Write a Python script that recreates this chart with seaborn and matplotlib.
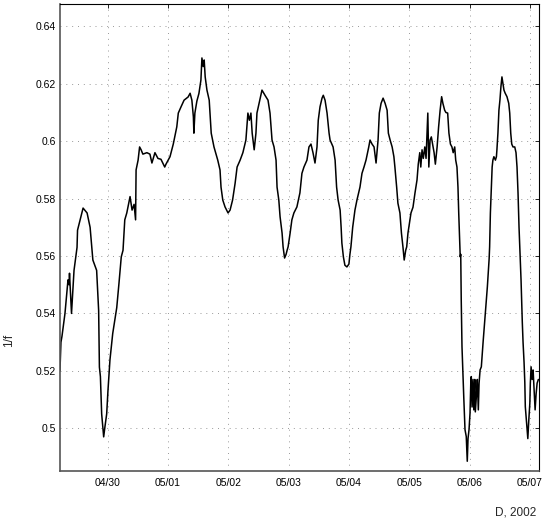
import numpy as np
import pandas as pd
import seaborn as sns
import matplotlib.pyplot as plt
import matplotlib.dates as mdates

# hours after 2002-04-29 00:00 and the 1/f value
hours = [5.0, 5.4, 5.8, 7.0, 8.2, 8.6, 8.8, 9.6, 10.6, 11.8, 12.0, 14.2, 15.8, 17.0,
         18.1, 19.6, 20.0, 20.4, 20.7, 21.1, 21.6, 22.4, 22.9, 23.6, 24.1, 24.9,
         26.0, 27.6, 28.5, 29.4, 30.1, 30.8, 31.6, 32.9, 33.7, 34.5, 35.1, 35.3,
         36.1, 36.7, 37.3, 38.0, 39.6, 40.8, 41.6, 42.8, 44.0, 45.2, 46.7, 47.2,
         48.8, 50.1, 51.5, 52.1, 53.2, 54.4, 56.0, 56.8, 57.5, 58.1, 58.3, 58.7,
         59.5, 60.3, 61.1, 61.5, 62.0, 62.4, 62.8, 63.5, 64.4, 65.2, 66.3, 67.8,
         68.7, 69.1, 69.8, 70.7, 71.9, 72.7, 73.7, 74.7, 75.5, 76.7, 77.8, 79.0,
         79.8, 80.4, 81.0, 81.5, 82.3, 83.0, 83.4, 84.5, 85.4, 86.6, 87.8, 88.6,
         89.4, 90.2, 91.0, 91.4, 92.1, 92.6, 93.4, 93.8, 94.4, 95.0, 95.4, 95.8,
         96.6, 97.3, 98.1, 99.3, 100.5, 101.3, 102.1, 103.3, 104.1, 104.9, 105.7,
         106.5, 107.3, 107.8, 108.5, 109.3, 109.8, 110.5, 111.3, 112.1, 112.5,
         113.7, 114.5, 115.1, 115.7, 116.5, 116.9, 117.2, 117.8, 118.4, 119.2,
         120.0, 120.4, 120.8, 121.5, 122.4, 123.2, 124.4, 125.2, 126.0, 126.8,
         127.9, 128.4, 129.2, 130.0, 130.8, 131.6, 132.1, 132.8, 133.6, 134.4,
         135.2, 135.7, 136.4, 137.2, 137.9, 138.3, 139.0, 139.5, 140.3, 140.9,
         141.5, 142.0, 142.6, 143.0, 143.5, 144.3, 144.7, 145.5, 146.3, 147.1,
         147.6, 148.2, 148.6, 149.1, 149.6, 150.2, 150.7, 151.1, 151.4, 151.8,
         152.3, 152.8, 153.3, 153.9, 154.4, 155.1, 155.7, 156.3, 156.9, 157.4,
         158.1, 158.6, 159.3, 159.8, 160.4, 161.0, 161.5, 162.1, 162.5, 163.0,
         163.4, 163.7, 164.1, 164.3, 164.5, 164.7, 165.0, 165.4, 165.7, 166.2,
         166.7, 167.1, 167.4, 167.8, 168.2, 168.5, 168.7, 169.0, 169.4, 169.7,
         170.1, 170.3, 170.9, 171.1, 171.5, 171.8, 172.2, 172.7, 173.4, 174.2,
         175.1, 175.8, 176.0, 176.3, 176.7, 177.0, 177.3, 177.7, 178.3, 178.7,
         178.9, 179.3, 179.7, 180.1, 180.5, 180.9, 181.3, 181.7, 182.2, 182.9,
         183.6, 184.0, 184.4, 184.8, 185.3, 186.0, 186.5, 186.9, 187.3, 187.7,
         188.1, 188.2, 188.5, 189.0, 189.3, 189.7, 190.0, 190.2, 190.6, 190.9,
         191.2, 191.6, 192.0, 192.2, 192.5, 192.9, 193.3, 193.7, 194.1, 194.5,
         194.9, 195.4]
inv_f = [0.520, 0.530, 0.532, 0.540, 0.5517, 0.550, 0.554, 0.540, 0.555, 0.563,
         0.569, 0.5767, 0.575, 0.570, 0.5586, 0.555, 0.548, 0.541, 0.5213, 0.518,
         0.505, 0.497, 0.5005, 0.505, 0.513, 0.5238, 0.533, 0.542, 0.5506, 0.5597,
         0.562, 0.5726, 0.575, 0.5807, 0.576, 0.578, 0.5726, 0.590, 0.5934, 0.598,
         0.597, 0.5955, 0.596, 0.5955, 0.5924, 0.596, 0.594, 0.5937, 0.591, 0.592,
         0.5946, 0.599, 0.605, 0.6098, 0.612, 0.6143, 0.6154, 0.6167, 0.6143,
         0.6085, 0.6028, 0.6098, 0.614, 0.6166, 0.6213, 0.629, 0.626, 0.6283,
         0.6224, 0.6178, 0.6143, 0.6028, 0.598, 0.5934, 0.590, 0.584, 0.5795,
         0.5771, 0.575, 0.576, 0.5795, 0.5853, 0.591, 0.5934, 0.596, 0.6004,
         0.6098, 0.6073, 0.6098, 0.6028, 0.597, 0.6028, 0.6098, 0.6143, 0.6178,
         0.616, 0.6143, 0.6098, 0.6004, 0.598, 0.5934, 0.584, 0.5795, 0.5737,
         0.568, 0.5632, 0.5593, 0.5606, 0.562, 0.5632, 0.568, 0.5726, 0.575,
         0.5771, 0.582, 0.5888, 0.591, 0.5934, 0.598, 0.599, 0.596, 0.5924, 0.598,
         0.6073, 0.612, 0.615, 0.616, 0.6143, 0.6098, 0.6028, 0.6004, 0.598,
         0.5934, 0.584, 0.5795, 0.576, 0.570, 0.5645, 0.5597, 0.5568, 0.5562,
         0.5572, 0.5606, 0.5632, 0.570, 0.576, 0.5795, 0.584, 0.5888, 0.591,
         0.5934, 0.598, 0.6004, 0.599, 0.598, 0.5924, 0.6004, 0.6098, 0.6132,
         0.615, 0.6132, 0.6108, 0.6028, 0.6004, 0.598, 0.5946, 0.591, 0.584,
         0.5784, 0.575, 0.568, 0.5632, 0.5586, 0.562, 0.5632, 0.568, 0.5726,
         0.575, 0.577, 0.582, 0.5865, 0.592, 0.596, 0.591, 0.597, 0.594, 0.598,
         0.594, 0.6028, 0.6098, 0.591, 0.6004, 0.6015, 0.599, 0.596, 0.592, 0.598,
         0.605, 0.6108, 0.6155, 0.6132, 0.6108, 0.610, 0.6098, 0.6028, 0.599,
         0.598, 0.596, 0.598, 0.5934, 0.591, 0.584, 0.575, 0.5655, 0.5597, 0.5606,
         0.5447, 0.5284, 0.518, 0.511, 0.4995, 0.4971, 0.4885, 0.4964, 0.4995,
         0.5053, 0.5157, 0.518, 0.5074, 0.517, 0.5064, 0.517, 0.5057, 0.5133,
         0.517, 0.5064, 0.5157, 0.5203, 0.5214, 0.530, 0.539, 0.5493, 0.559,
         0.5632, 0.575, 0.584, 0.591, 0.5934, 0.5946, 0.5934, 0.5946, 0.597,
         0.6028, 0.6108, 0.6143, 0.619, 0.6224, 0.620, 0.6178, 0.6167, 0.6155,
         0.6132, 0.6098, 0.6028, 0.599, 0.598, 0.598, 0.596, 0.591, 0.582, 0.570,
         0.5609, 0.5586, 0.5517, 0.537, 0.530, 0.523, 0.516, 0.5075, 0.503, 0.4995,
         0.4964, 0.503, 0.5087, 0.5157, 0.5214, 0.517, 0.5203, 0.5133, 0.5064,
         0.512, 0.5157, 0.517]
y_ticks = [0.5, 0.52, 0.54, 0.56, 0.58, 0.6, 0.62, 0.64]
y_tick_labels = ['0.5', '0.52', '0.54', '0.56', '0.58', '0.6', '0.62', '0.64']
day_ticks = ['2002-04-30', '2002-05-01', '2002-05-02', '2002-05-03',
             '2002-05-04', '2002-05-05', '2002-05-06', '2002-05-07']

start = pd.Timestamp('2002-04-29')
df = pd.DataFrame({'time': start + pd.to_timedelta(hours, unit='h'), 'inv_f': inv_f})

sns.set_style('white')
plt.rcParams['font.family'] = ['Liberation Sans Narrow', 'Liberation Sans', 'DejaVu Sans']

fig = plt.figure(figsize=(5.45, 5.18), dpi=100)
ax = fig.add_axes([0.110, 0.0907, 0.879, 0.9016])

sns.lineplot(data=df, x='time', y='inv_f', color='black', linewidth=1.1, ax=ax)

ax.set_xlim(start + pd.Timedelta(hours=5.0), start + pd.Timedelta(hours=195.65))
ax.set_ylim(0.4851, 0.6478)
ax.set_xticks(pd.to_datetime(day_ticks))
ax.xaxis.set_major_formatter(mdates.DateFormatter('%m/%d'))
ax.set_yticks(y_ticks)
ax.set_yticklabels(y_tick_labels)

ax.grid(True, color='#999999', linestyle=(0, (1, 5)), linewidth=0.7)
for s in ax.spines.values():
    s.set_color('black')
    s.set_linewidth(0.8)
ax.spines['left'].set_color('#555555')
ax.spines['bottom'].set_color('#555555')
ax.spines['left'].set_linewidth(1.2)
ax.spines['bottom'].set_linewidth(1.2)
ax.tick_params(direction='in', length=3, width=0.6, top=True, right=True,
               labelsize=7.5, colors='black')
ax.tick_params(axis='y', pad=3)
ax.tick_params(axis='x', pad=5)

ax.set_xlabel('D, 2002', fontsize=8.5)
ax.xaxis.set_label_coords(0.952, -0.075)
ax.set_ylabel('1/f', fontsize=8.5)
ax.yaxis.set_label_coords(-0.094, 0.28)

fig.savefig('out.png', dpi=100)
